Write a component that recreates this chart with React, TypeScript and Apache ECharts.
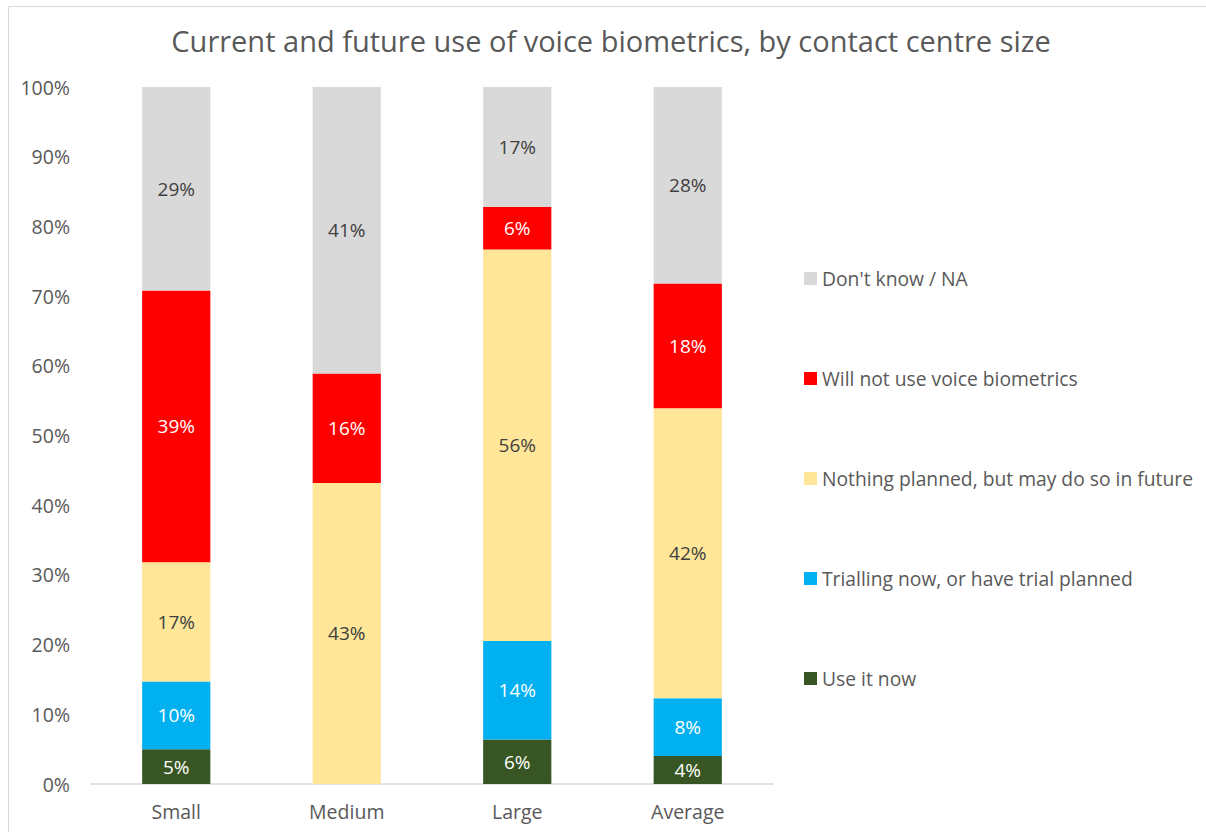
import React, { useEffect, useRef } from "react";
import * as echarts from "echarts";

const categories = ["Small", "Medium", "Large", "Average"];
const useItNow = [5.0, 0, 6.4, 4.0];
const trialling = [9.7, 0, 14.1, 8.3];
const nothingPlanned = [17.1, 43.2, 56.2, 41.6];
const willNotUse = [39.0, 15.7, 6.1, 17.9];
const dontKnow = [29.2, 41.1, 17.2, 28.2];
const yTicks = ["0%", "10%", "20%", "30%", "40%", "50%", "60%", "70%", "80%", "90%", "100%"];

const seriesNames = [
  "Use it now",
  "Trialling now, or have trial planned",
  "Nothing planned, but may do so in future",
  "Will not use voice biometrics",
  "Don't know / NA",
];
const seriesData = [useItNow, trialling, nothingPlanned, willNotUse, dontKnow];
const colors = ["#375623", "#00B0F0", "#FFE699", "#FF0000", "#D9D9D9"];
const labelColors = ["#ffffff", "#ffffff", "#404040", "#ffffff", "#404040"];

const FONT = "'Open Sans', sans-serif";

export default function App() {
  const ref = useRef<HTMLDivElement>(null);
  useEffect(() => {
    const chart = echarts.init(ref.current!, null, { renderer: "svg" });
    chart.setOption({
      animation: false,
      backgroundColor: "#ffffff",
      textStyle: { fontFamily: FONT },
      title: {
        text: "Current and future use of voice biometrics, by contact centre size",
        left: 606,
        textAlign: "center",
        top: 21,
        textStyle: { fontFamily: FONT, fontSize: 29, fontWeight: "normal", color: "#595959" },
      },
      graphic: [
        {
          type: "rect",
          shape: { x: 8.5, y: 6.5, width: 1300, height: 900 },
          style: { fill: "none", stroke: "#d9d9d9", lineWidth: 1 },
          silent: true,
        },
      ],
      legend: {
        orient: "vertical",
        left: 799,
        top: 264,
        itemWidth: 13,
        itemHeight: 13,
        itemGap: 81,
        icon: "rect",
        data: [...seriesNames].reverse(),
        textStyle: { fontFamily: FONT, fontSize: 19.3, color: "#595959" },
      },
      grid: { left: 91, right: 433, top: 87, bottom: 48 },
      xAxis: {
        type: "category",
        data: categories,
        axisLine: { lineStyle: { color: "#d9d9d9", width: 1.5 } },
        axisTick: { show: false },
        axisLabel: { fontFamily: FONT, fontSize: 19.5, color: "#595959", margin: 17 },
      },
      yAxis: {
        type: "value",
        min: 0,
        max: 100,
        interval: 10,
        splitLine: { show: false },
        axisLine: { show: false },
        axisTick: { show: false },
        axisLabel: {
          fontFamily: FONT,
          fontSize: 19.5,
          color: "#595959",
          margin: 21,
          formatter: (v: number) => yTicks[Math.round(v / 10)],
        },
      },
      series: seriesData.map((d, i) => ({
        name: seriesNames[i],
        type: "bar",
        stack: "total",
        barWidth: "40%",
        data: d,
        itemStyle: { color: colors[i] },
        label: {
          show: true,
          position: "inside",
          fontFamily: FONT,
          fontSize: 19,
          color: labelColors[i],
          formatter: (p: any) => (p.value > 0 ? Math.round(p.value) + "%" : ""),
        },
      })),
    });
    return () => chart.dispose();
  }, []);
  return (
    <div
      ref={ref}
      style={{ position: "fixed", left: 0, top: 0, width: 1206, height: 832 }}
    />
  );
}
